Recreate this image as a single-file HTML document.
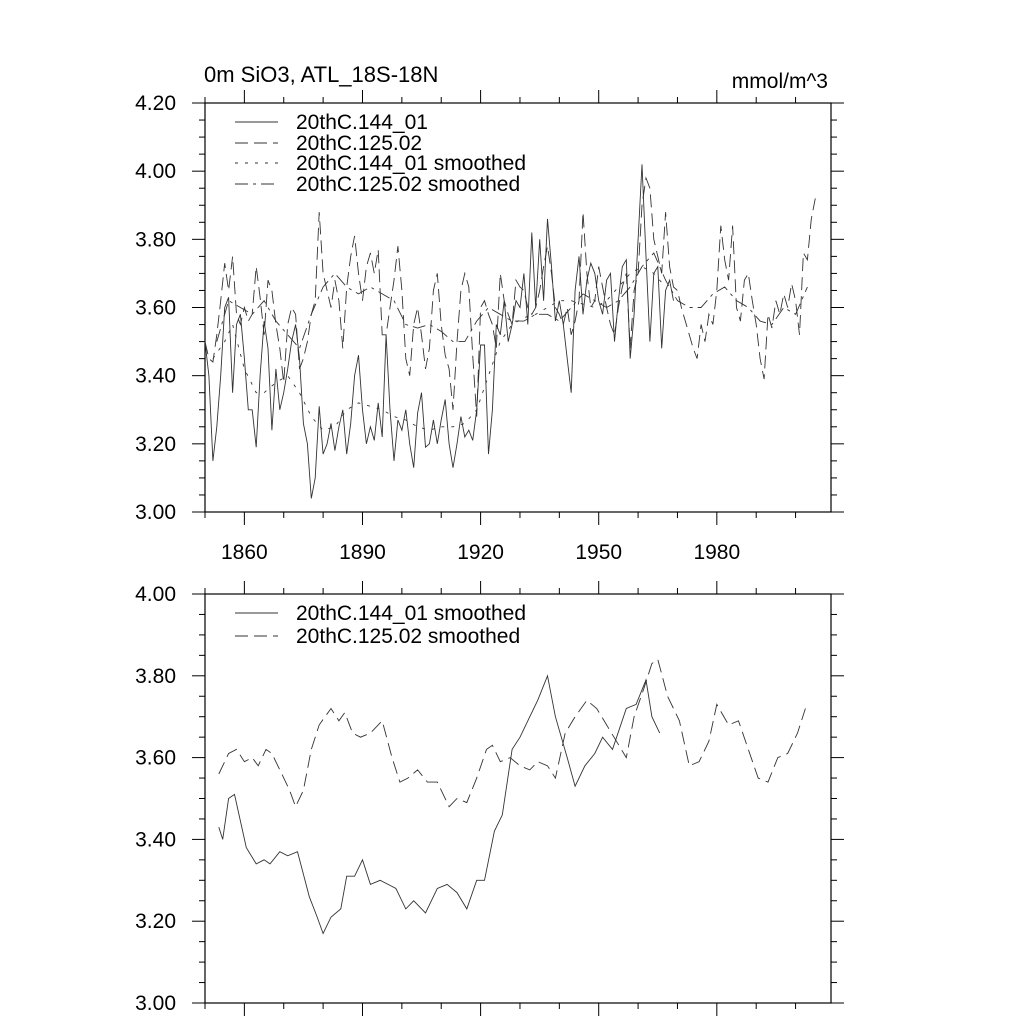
<!DOCTYPE html>
<html><head><meta charset="utf-8"><style>
html,body{margin:0;padding:0;background:#fff;}
svg{display:block;font-family:"Liberation Sans",sans-serif;}
</style></head><body>
<svg id="chart" width="1024" height="1024" viewBox="0 0 1024 1024">
<text x="204" y="82" font-size="22">0m SiO3, ATL_18S-18N</text>
<text x="828" y="88" font-size="21" text-anchor="end">mmol/m^3</text>
<g id="top"></g>
<g id="bot"></g>
</svg>
<script>
const raw144Start = 1850;
const raw144 = [3.50,3.40,3.15,3.25,3.40,3.60,3.63,3.35,3.55,3.58,3.45,3.30,3.30,3.19,3.40,3.56,3.48,3.24,3.42,3.30,3.35,3.42,3.50,3.55,3.45,3.26,3.20,3.04,3.10,3.31,3.17,3.20,3.26,3.18,3.25,3.30,3.17,3.26,3.40,3.46,3.30,3.20,3.25,3.21,3.32,3.22,3.52,3.30,3.15,3.27,3.24,3.30,3.20,3.13,3.29,3.35,3.19,3.20,3.27,3.20,3.27,3.33,3.20,3.13,3.20,3.28,3.22,3.24,3.21,3.30,3.49,3.49,3.17,3.30,3.55,3.52,3.62,3.50,3.55,3.62,3.60,3.70,3.55,3.82,3.60,3.80,3.62,3.86,3.72,3.56,3.62,3.55,3.45,3.35,3.65,3.75,3.58,3.68,3.73,3.70,3.62,3.58,3.68,3.70,3.50,3.62,3.72,3.74,3.45,3.58,3.80,4.02,3.75,3.50,3.70,3.72,3.48,3.65,3.68,3.62];
const raw125Start = 1850;
const raw125 = [3.50,3.45,3.44,3.52,3.62,3.73,3.65,3.75,3.58,3.55,3.60,3.56,3.58,3.72,3.63,3.52,3.68,3.65,3.55,3.48,3.38,3.55,3.60,3.58,3.42,3.45,3.50,3.58,3.62,3.88,3.70,3.65,3.60,3.68,3.62,3.48,3.66,3.75,3.81,3.70,3.62,3.72,3.76,3.70,3.77,3.52,3.52,3.60,3.68,3.78,3.65,3.45,3.40,3.55,3.60,3.52,3.42,3.48,3.65,3.70,3.55,3.46,3.42,3.30,3.50,3.65,3.70,3.66,3.46,3.28,3.60,3.62,3.58,3.55,3.48,3.70,3.62,3.58,3.55,3.68,3.66,3.65,3.60,3.58,3.60,3.65,3.72,3.78,3.70,3.60,3.58,3.55,3.60,3.52,3.56,3.62,3.88,3.70,3.60,3.62,3.72,3.66,3.60,3.55,3.52,3.60,3.66,3.70,3.48,3.65,3.70,3.90,3.98,3.95,3.80,3.75,3.70,3.88,3.72,3.66,3.65,3.60,3.56,3.52,3.48,3.45,3.55,3.50,3.58,3.55,3.65,3.84,3.74,3.68,3.84,3.60,3.56,3.68,3.70,3.62,3.55,3.45,3.39,3.58,3.54,3.62,3.58,3.64,3.60,3.67,3.62,3.52,3.76,3.74,3.86,3.92];
const sm144TopYears = [1852,1855,1857,1860,1863,1865,1868,1871,1874,1877,1880,1883,1886,1889,1892,1895,1898,1901,1904,1907,1910,1913,1916,1919,1922,1925,1928,1931,1934,1937,1940,1943,1946,1949,1952,1955,1958,1961,1964,1967];
const sm144Top = [3.45,3.50,3.55,3.42,3.35,3.35,3.38,3.40,3.35,3.28,3.24,3.25,3.30,3.32,3.31,3.30,3.28,3.27,3.25,3.24,3.25,3.25,3.26,3.30,3.40,3.50,3.55,3.57,3.58,3.60,3.62,3.62,3.61,3.60,3.62,3.66,3.70,3.72,3.70,3.66];
const sm125TopYears = [1853,1856,1859,1862,1865,1868,1871,1874,1877,1880,1883,1886,1889,1892,1895,1898,1901,1904,1907,1910,1913,1916,1919,1922,1925,1928,1931,1934,1937,1940,1943,1946,1949,1952,1955,1958,1961,1964,1967,1970,1973,1976,1979,1982,1985,1988,1991,1994,1997,2000,2003];
const sm125Top = [3.50,3.62,3.60,3.58,3.62,3.56,3.52,3.48,3.58,3.66,3.70,3.66,3.64,3.66,3.64,3.62,3.55,3.54,3.55,3.53,3.50,3.50,3.56,3.60,3.58,3.56,3.56,3.58,3.58,3.56,3.60,3.64,3.62,3.60,3.62,3.66,3.72,3.76,3.68,3.62,3.60,3.60,3.64,3.66,3.62,3.60,3.56,3.55,3.60,3.58,3.66];
const sm144Years = [1853.5,1854.5,1856,1857.5,1860.5,1863,1865,1866.5,1869,1871,1873.5,1876.5,1878.5,1880,1882,1884.5,1886,1888,1890,1892,1894.5,1896.5,1898.5,1901,1903,1906,1909,1911.5,1914,1916.5,1919,1921,1923.5,1925.5,1928,1930,1932.5,1934.5,1937,1939,1942,1944,1946.5,1949,1951,1953.5,1957,1959.5,1962,1963.5,1965.5];
const sm144 = [3.43,3.40,3.50,3.51,3.38,3.34,3.35,3.34,3.37,3.36,3.37,3.26,3.21,3.17,3.21,3.23,3.31,3.31,3.35,3.29,3.30,3.29,3.28,3.23,3.25,3.22,3.28,3.29,3.27,3.23,3.30,3.30,3.42,3.46,3.62,3.65,3.70,3.74,3.80,3.70,3.60,3.53,3.58,3.61,3.65,3.62,3.72,3.73,3.79,3.70,3.66];
const sm125Years = [1853.5,1856,1858,1860,1862,1863.5,1865.5,1867,1869.5,1871.5,1873,1875,1877,1879,1882,1884,1885.5,1887.5,1889.5,1892,1895,1897.5,1899.5,1901.5,1904,1906.5,1909,1912,1914,1916.5,1919,1921.5,1923,1925,1927.5,1930,1932.5,1934.5,1937,1939,1941.5,1944,1947,1949.5,1952,1954.5,1957,1959,1961.5,1963.5,1965,1967.5,1970.5,1973,1975.5,1978,1980,1983,1985.5,1988,1990.5,1993,1995.5,1998,2000.5,2002.5];
const sm125 = [3.56,3.61,3.62,3.59,3.60,3.58,3.62,3.61,3.56,3.52,3.48,3.52,3.62,3.68,3.72,3.69,3.71,3.66,3.65,3.66,3.69,3.60,3.54,3.55,3.57,3.54,3.54,3.48,3.50,3.49,3.55,3.62,3.63,3.59,3.60,3.58,3.57,3.59,3.58,3.55,3.66,3.70,3.74,3.72,3.68,3.64,3.60,3.70,3.77,3.83,3.84,3.75,3.69,3.58,3.59,3.64,3.73,3.68,3.69,3.62,3.55,3.54,3.60,3.61,3.66,3.72];
const xTickLabels = [1860,1890,1920,1950,1980];
const topYTicks = ["3.00","3.20","3.40","3.60","3.80","4.00","4.20"];
const botYTicks = ["3.00","3.20","3.40","3.60","3.80","4.00"];

const NS="http://www.w3.org/2000/svg";
const X0=205,X1=831,XMIN=1850,XMAX=2009;
const xs=yr=>X0+(yr-XMIN)/(XMAX-XMIN)*(X1-X0);
function mk(p,t,a){const e=document.createElementNS(NS,t);for(const k in a)e.setAttribute(k,a[k]);p.appendChild(e);return e;}
const styles={solid:"",dash:"13,6",dot:"3,7",dashdot:"13,5,3,5"};
function panel(g,top,bot,ymin,ymax,yt,showX){
  const ys=v=>bot-(v-ymin)/(ymax-ymin)*(bot-top);
  const fr=mk(g,'rect',{x:X0,y:top,width:X1-X0,height:bot-top,fill:'none',stroke:'#000','stroke-width':1.2});
  
  
  for(let yr=1850;yr<=2000;yr+=10){
    const x=xs(yr),maj=(yr-1860)%30===0;const L=maj?13:6;
    const t1=mk(g,'line',{x1:x,x2:x,y1:bot,y2:bot+L,stroke:'#000'});
    
    
    const t2=mk(g,'line',{x1:x,x2:x,y1:top,y2:top-L,stroke:'#000'});
    
    
  }
  if(showX) xTickLabels.forEach(v=>{const t=mk(g,'text',{x:xs(v),y:bot+47,'font-size':21,'text-anchor':'middle'});t.textContent=v;
    
    });
  for(let v=ymin;v<=ymax+1e-6;v+=0.05){
    const y=ys(v),maj=Math.abs(Math.round(v*5)-v*5)<1e-6;const L=maj?13:6;
    const a=mk(g,'line',{x1:X0-L,x2:X0,y1:y,y2:y,stroke:'#000'});
    
    
    const b=mk(g,'line',{x1:X1,x2:X1+L,y1:y,y2:y,stroke:'#000'});
    
    
  }
  yt.forEach(s=>{const t=mk(g,'text',{x:176,y:ys(+s)+7,'font-size':21,'text-anchor':'end'});t.textContent=s;
    
    });
  return ys;
}
function series(g,ys,years,vals,st,name){
  const n=Math.min(years.length,vals.length);let d="";
  for(let i=0;i<n;i++)d+=(i?"L":"M")+xs(years[i]).toFixed(1)+","+ys(vals[i]).toFixed(1);
  const p=mk(g,'path',{d:d,fill:'none',stroke:'#333','stroke-width':0.9,'stroke-dasharray':styles[st]});
  
  
}
function legend(g,y,st,label,name){
  const l=mk(g,'line',{x1:235,x2:278,y1:y,y2:y,stroke:'#333','stroke-width':0.9,'stroke-dasharray':styles[st]});
  
  
  const t=mk(g,'text',{x:296,y:y+7,'font-size':21});t.textContent=label;
  
  
}
const yrs=(s,a)=>a.map((_,i)=>s+i);
const gt=document.getElementById('top'),gb=document.getElementById('bot');
const yt=panel(gt,103,512,3.0,4.2,topYTicks,true);
series(gt,yt,yrs(raw144Start,raw144),raw144,'solid','series-144-01');
series(gt,yt,yrs(raw125Start,raw125),raw125,'dash','series-125-02');
series(gt,yt,sm144TopYears,sm144Top,'dot','series-144-01-smoothed');
series(gt,yt,sm125TopYears,sm125Top,'dashdot','series-125-02-smoothed');
legend(gt,122,'solid','20thC.144_01','legend-entry-144-01');
legend(gt,143,'dash','20thC.125.02','legend-entry-125-02');
legend(gt,163,'dot','20thC.144_01 smoothed','legend-entry-144-01-smoothed');
legend(gt,184,'dashdot','20thC.125.02 smoothed','legend-entry-125-02-smoothed');
const yb=panel(gb,594,1003,3.0,4.0,botYTicks,false);
series(gb,yb,sm144Years,sm144,'solid','series-144-01-smoothed-bottom');
series(gb,yb,sm125Years,sm125,'dash','series-125-02-smoothed-bottom');
legend(gb,613,'solid','20thC.144_01 smoothed','legend-entry-bottom-144-01');
legend(gb,636,'dash','20thC.125.02 smoothed','legend-entry-bottom-125-02');
</script>
</body></html>
